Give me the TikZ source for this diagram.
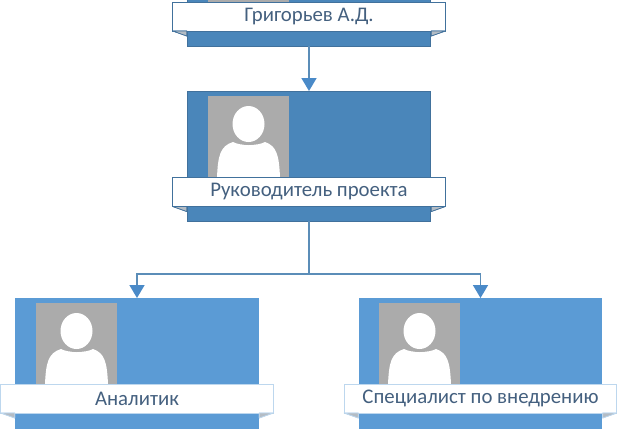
\documentclass[tikz,border=0pt]{standalone}
\usepackage{fontspec}
\setmainfont{Carlito}
\usetikzlibrary{arrows.meta,positioning}
\definecolor{bossfill}{HTML}{4A86BA}
\definecolor{bossline}{HTML}{41719C}
\definecolor{stafffill}{HTML}{5B9BD5}
\definecolor{staffline}{HTML}{BDD7EE}
\definecolor{photogrey}{HTML}{ABABAB}
\definecolor{foldgrey}{HTML}{B4BCC4}
\definecolor{labeltext}{HTML}{44607F}
\definecolor{wire}{HTML}{5B8DB8}
\definecolor{tip}{HTML}{4A8AC8}
\tikzset{
  x=1pt,y=-1pt,
  card/.style={draw=#1,line width=.8pt,minimum width=242.5pt,minimum height=130pt,inner sep=0pt,outer sep=0pt},
  bosscard/.style={card=bossline,fill=bossfill},
  staffcard/.style={card=stafffill,fill=stafffill},
  photobox/.style={fill=photogrey,minimum width=81pt,minimum height=81pt,inner sep=0pt,outer sep=0pt},
  ribbon/.style={draw=#1,fill=white,line width=.8pt,minimum width=272.5pt,minimum height=29pt,inner sep=0pt,outer sep=0pt,
    text=labeltext,font=\fontsize{20.8}{24}\selectfont},
  fold/.style={fill=foldgrey,draw=#1,line width=.7pt,line join=round},
  link/.style={draw=wire,line width=1.6pt},
  linkarrow/.style={link,-{Triangle[length=13pt,width=15pt,color=tip]}},
  pics/person/.style={code={
    \fill[white] (9,81) .. controls (10,60) and (12,50) .. (25,46)
      .. controls (32,50) and (50,50) .. (57,46)
      .. controls (69,50) and (71,60) .. (72,81) -- cycle;
    \fill[photogrey] (40.5,28) ellipse [x radius=19,y radius=21];
    \fill[white] (40.5,28) ellipse [x radius=16,y radius=18];
  }}
}
\newcommand{\folds}[2]{%
  \fill[fold=#2] (#1.south west) -- ++(14,0) -- ++(0,5) -- cycle;
  \fill[fold=#2] (#1.south east) -- ++(-14,0) -- ++(0,5) -- cycle;
  \draw[fold=#2] (#1.south west) -- ++(14,5) -- ++(0,-5) -- cycle;
  \draw[fold=#2] (#1.south east) -- ++(-14,5) -- ++(0,-5) -- cycle;
}
\begin{document}
\begin{tikzpicture}
\useasboundingbox (0,0) rectangle (617,429);
\clip (0,0) rectangle (617,429);
\fill[white] (0,0) rectangle (617,429);
% director
\node[bosscard,anchor=south] (dir) at (309,46) {};
\node[photobox,anchor=south west] (dirphoto) at (208,31) {};
\node[ribbon=bossline,anchor=north] (dirlabel) at (309,2) {Григорьев А.Д.};
\folds{dirlabel}{bossline}
% manager
\node[bosscard,anchor=north] (mgr) at (309,91) {};
\node[photobox,anchor=north west] (mgrphoto) at (208,96) {};
\pic at (mgrphoto.north west) {person};
\node[ribbon=bossline,anchor=north] (mgrlabel) at (309,177.5) {Руководитель проекта};
\folds{mgrlabel}{bossline}
% analyst
\node[staffcard,anchor=north] (ana) at (137,298) {};
\node[photobox,anchor=north west] (anaphoto) at (36,303) {};
\pic at (anaphoto.north west) {person};
\node[ribbon=staffline,anchor=north] (analabel) at (137,384) {Аналитик};
\folds{analabel}{staffline}
% specialist
\node[staffcard,anchor=north] (spec) at (480.5,298) {};
\node[photobox,anchor=north west] (specphoto) at (379,303) {};
\pic at (specphoto.north west) {person};
\node[ribbon=staffline,anchor=north] (speclabel) at (480.5,384) {Специалист по внедрению};
\folds{speclabel}{staffline}
% connectors
\draw[linkarrow] (dir.south) -- (mgr.north);
\coordinate (branch) at (309,274);
\draw[link] (mgr.south) -- (branch);
\draw[linkarrow] (branch) -| (ana.north);
\draw[linkarrow] (branch) -| (spec.north);
\end{tikzpicture}
\end{document}
